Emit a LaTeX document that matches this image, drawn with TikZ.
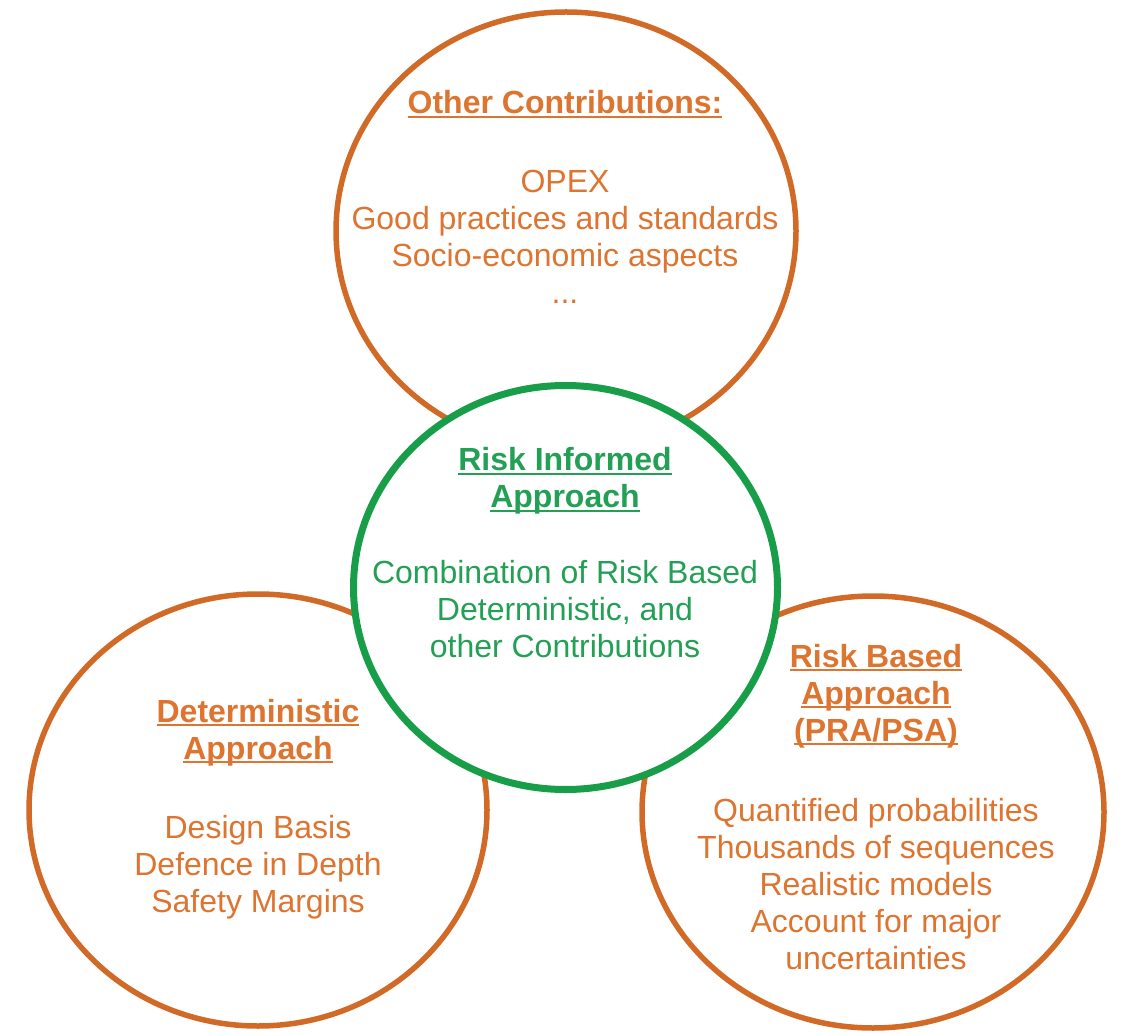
\documentclass[tikz,border=0pt]{standalone}
\usepackage{fontspec}
\setmainfont{Liberation Sans}
\definecolor{ringorange}{RGB}{208,106,38}
\definecolor{textorange}{RGB}{221,116,48}
\definecolor{ringgreen}{RGB}{24,158,72}
\definecolor{textgreen}{RGB}{36,160,86}
% bold heading with a flat underline just under the baseline
\newsavebox\headbox
\newcommand\headline[1]{\sbox\headbox{\bfseries #1}\rlap{\rule[-0.14em]{\wd\headbox}{0.075em}}\usebox\headbox}
\begin{document}
\begin{tikzpicture}[x=0.5pt,y=-0.5pt,
  ringline/.style={draw=ringorange,line width=2.75pt},
  coreline/.style={draw=ringgreen,line width=3.5pt,fill=white},
  % anchor at the baseline of the last line of each block
  words/.style={inner sep=0pt,anchor=base,align=center,
    font=\fontsize{16pt}{18.5pt}\selectfont},
  orangewords/.style={words,text=textorange},
  greenwords/.style={words,text=textgreen}]
\useasboundingbox[fill=white] (0,0) rectangle (1122,1036);

% outer circles
\draw[ringline] (566,231) ellipse [x radius=230, y radius=219];
\draw[ringline] (258,810) ellipse [x radius=229, y radius=216];
\draw[ringline] (873,812) ellipse [x radius=231, y radius=216];
% central circle on top
\draw[coreline] (565.5,587.5) ellipse [x radius=212, y radius=202];

% other contributions
\node[orangewords] (otherhead) at (565,114) {\headline{Other Contributions:}};
\node[orangewords] (otherbody) at (565,304)
  {OPEX\\Good practices and standards\\Socio-economic aspects\\...};

% risk informed
\node[greenwords] (informedhead) at (565,508)
  {\headline{Risk Informed}\\\headline{Approach}};
\node[greenwords] (informedbody) at (565,657)
  {Combination of Risk Based\\Deterministic, and\\other Contributions};

% deterministic
\node[orangewords] (dethead) at (258,759)
  {\headline{Deterministic}\\\headline{Approach}};
\node[orangewords] (detbody) at (258,912)
  {Design Basis\\Defence in Depth\\Safety Margins};

% risk based
\node[orangewords] (rbhead) at (876,741)
  {\headline{Risk Based}\\\headline{Approach}\\\headline{(PRA/PSA)}};
\node[orangewords] (rbbody) at (876,969)
  {Quantified probabilities\\Thousands of sequences\\Realistic models\\Account for major\\uncertainties};
\end{tikzpicture}
\end{document}
